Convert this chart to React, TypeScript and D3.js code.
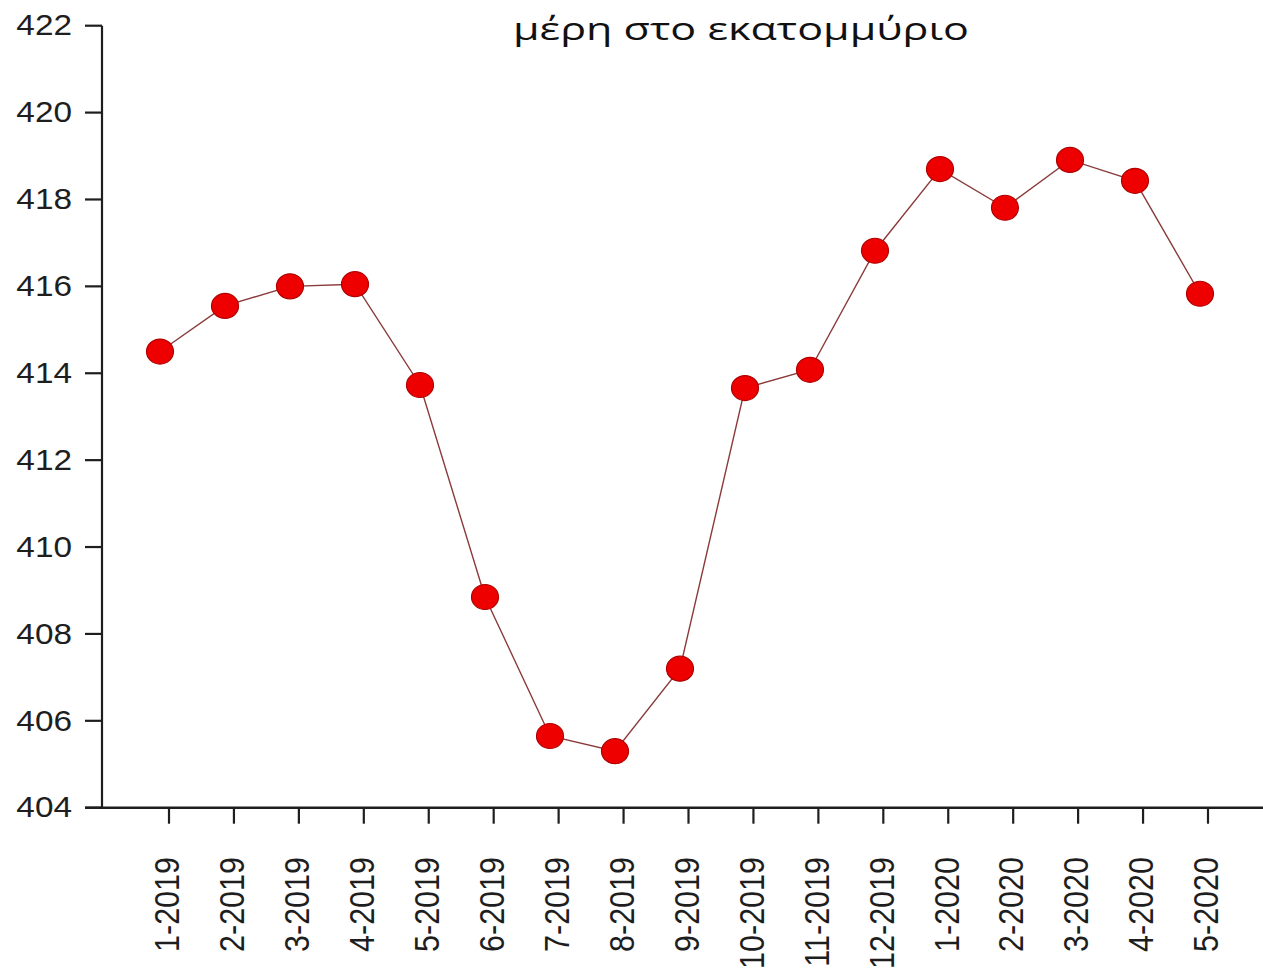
import React, { useEffect, useRef, useState } from "react";
import * as d3 from "d3";

const months = ["1-2019","2-2019","3-2019","4-2019","5-2019","6-2019","7-2019","8-2019","9-2019","10-2019","11-2019","12-2019","1-2020","2-2020","3-2020","4-2020","5-2020"];
const ppm = [414.5,415.55,416.0,416.05,413.73,408.85,405.65,405.3,407.2,413.66,414.08,416.82,418.7,417.81,418.91,418.43,415.83];
const yTicks = [404,406,408,410,412,414,416,418,420,422];
const title = "μέρη στο εκατομμύριο";

const W = 1263, H = 971;
const SX = 1.15;

export default function App() {
  const titleRef = useRef<SVGTextElement>(null);
  const [tsx, setTsx] = useState(1.3);
  useEffect(() => {
    if (titleRef.current) {
      const len = titleRef.current.getComputedTextLength();
      if (len > 0) setTsx(456 / len);
    }
  }, []);
  const y = d3.scaleLinear().domain([404, 422]).range([807.7, 25.7]);
  const xTick = d3.scalePoint<string>().domain(months).range([169, 1208]);
  const xPt = d3.scalePoint<string>().domain(months).range([160, 1200]);
  const line = d3.line<number>().x((_, i) => xPt(months[i])!).y(d => y(d));
  const ink = "#1e1e1e";
  return (
    <svg width={W} height={H} style={{ position: "absolute", left: 0, top: 0, background: "#fff" }}>
      <text ref={titleRef} transform={`translate(513,39.5) scale(${tsx},1)`} fontFamily="'Open Sans', sans-serif" fontWeight={500} fontSize={30.5} fill="#111">{title}</text>
      {/* y axis */}
      <line x1={102} x2={102} y1={y(422)} y2={y(404)} stroke={ink} strokeWidth={2.2} />
      {yTicks.map(t => (
        <g key={t}>
          <line x1={85} x2={102} y1={y(t)} y2={y(t)} stroke={ink} strokeWidth={2.2} />
          <text transform={`translate(72,${y(t)}) scale(${SX},1)`} textAnchor="end" dominantBaseline="central" fontFamily="'Liberation Sans', Arial, sans-serif" fontSize={29} fill={ink}>{t}</text>
        </g>
      ))}
      {/* x axis */}
      <line x1={85} x2={1263} y1={y(404)} y2={y(404)} stroke={ink} strokeWidth={2.4} />
      {months.map(m => (
        <g key={m}>
          <line x1={xTick(m)} x2={xTick(m)} y1={y(404)} y2={y(404) + 16} stroke={ink} strokeWidth={2.2} />
          <text transform={`translate(${xTick(m)! - 2},857) scale(${SX},1) rotate(-90)`} textAnchor="end" dominantBaseline="central" fontFamily="'Liberation Sans', Arial, sans-serif" fontSize={30.5} fill={ink}>{m}</text>
        </g>
      ))}
      <path d={line(ppm)!} fill="none" stroke="#8a3a3a" strokeWidth={1.4} />
      {ppm.map((v, i) => (
        <ellipse key={i} cx={xPt(months[i])} cy={y(v)} rx={13.5} ry={12.5} fill="#ee0000" stroke="#b00000" strokeWidth={1.2} />
      ))}
    </svg>
  );
}
